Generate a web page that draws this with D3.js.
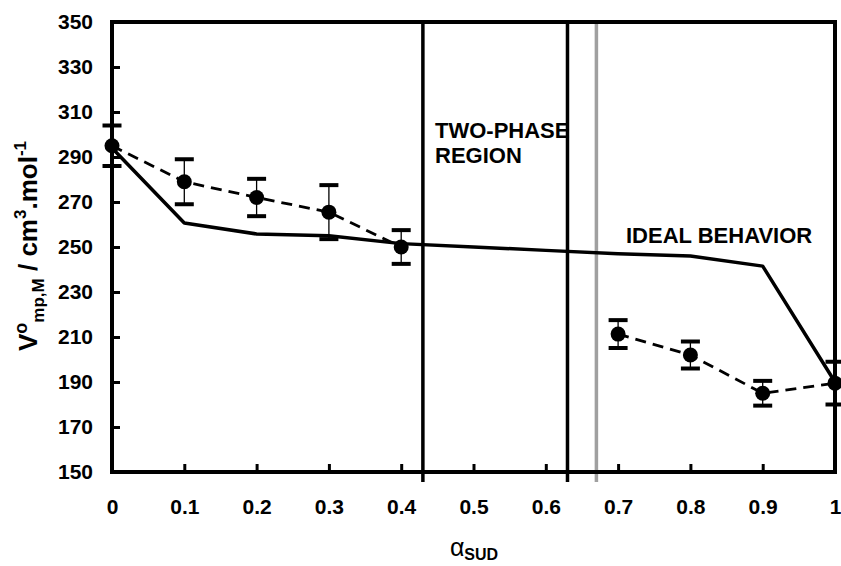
<!DOCTYPE html>
<html><head><meta charset="utf-8">
<script src="https://cdn.jsdelivr.net/npm/d3@7"></script>
<style>body{margin:0;background:#fff}svg{display:block}</style>
</head><body>
<svg id="c" width="841" height="566"></svg>
<script>
const xTicks = [0,0.1,0.2,0.3,0.4,0.5,0.6,0.7,0.8,0.9,1];
const yTicks = [150,170,190,210,230,250,270,290,310,330,350];
const idealX = [0,0.1,0.2,0.3,0.4,0.5,0.6,0.7,0.8,0.9,1];
const idealY = [294,260.7,255.8,255,251.5,250,248.5,247,246,241.5,190];
const expX = [0,0.1,0.2,0.3,0.4,0.7,0.8,0.9,1];
const expY = [295,279,272,265.5,250,211.3,202,185,189.5];
const expErr = [9,10,8.3,12,7.5,6.2,6,5.5,9.5];
const expSegment = [0,0,0,0,0,1,1,1,1];
const phaseLines = [0.43,0.63];
const greyLine = [0.67];

const svg = d3.select("#c");
const L=112,R=835,T=22,B=472;
const x = d3.scaleLinear().domain([0,1]).range([L,R]);
const y = d3.scaleLinear().domain([150,350]).range([B,T]);
const font = "'Liberation Sans', Arial, sans-serif";

const xa = svg.append("g").attr("transform",`translate(0,${B})`)
  .call(d3.axisBottom(x).tickValues(xTicks).tickSize(-8).tickPadding(27).tickFormat(d=>d3.format("")(d)));
xa.select(".domain").remove();
xa.selectAll("line").attr("stroke","#000").attr("stroke-width",3);
xa.selectAll("text").attr("font-family",font).attr("font-weight","bold").attr("font-size",21).attr("fill","#000");

const ya = svg.append("g").attr("transform",`translate(${L},0)`)
  .call(d3.axisLeft(y).tickValues(yTicks).tickSize(-8).tickPadding(19));
ya.select(".domain").remove();
ya.selectAll("line").attr("stroke","#000").attr("stroke-width",3);
ya.selectAll("text").attr("font-family",font).attr("font-weight","bold").attr("font-size",21).attr("fill","#000");

svg.selectAll(".pl").data(phaseLines).join("line")
  .attr("x1",d=>x(d)).attr("x2",d=>x(d)).attr("y1",T).attr("y2",B+10)
  .attr("stroke","#000").attr("stroke-width",3.5);
svg.selectAll(".gl").data(greyLine).join("line")
  .attr("x1",d=>x(d)).attr("x2",d=>x(d)).attr("y1",T).attr("y2",B+10)
  .attr("stroke","#a0a0a0").attr("stroke-width",3.5);

svg.append("rect").attr("x",L).attr("y",T).attr("width",R-L).attr("height",B-T)
  .attr("fill","none").attr("stroke","#000").attr("stroke-width",4);

const line = d3.line().x(d=>x(d[0])).y(d=>y(d[1]));
svg.append("path").datum(idealX.map((v,i)=>[v,idealY[i]]))
  .attr("d",line).attr("fill","none").attr("stroke","#000").attr("stroke-width",3.5).attr("stroke-linejoin","round");

const segs = d3.groups(expX.map((v,i)=>[v,expY[i],expSegment[i]]), d=>d[2]);
segs.forEach(([k,pts])=>{
  svg.append("path").datum(pts).attr("d",line).attr("fill","none").attr("stroke","#000")
    .attr("stroke-width",2.8).attr("stroke-dasharray","11,7");
});

const eb = svg.append("g");
expX.forEach((v,i)=>{
  const cx=x(v), yt=y(expY[i]+expErr[i]), yb=y(expY[i]-expErr[i]);
  eb.append("line").attr("x1",cx).attr("x2",cx).attr("y1",yt).attr("y2",yb).attr("stroke","#000").attr("stroke-width",1.3);
  [yt,yb].forEach(yy=>eb.append("line").attr("x1",cx-9.5).attr("x2",cx+9.5).attr("y1",yy).attr("y2",yy).attr("stroke","#000").attr("stroke-width",4));
});
svg.selectAll(".dot").data(expX.map((v,i)=>[v,expY[i]])).join("circle")
  .attr("cx",d=>x(d[0])).attr("cy",d=>y(d[1])).attr("r",7.5).attr("fill","#000");

const ann = svg.append("g").attr("font-family",font).attr("font-weight","bold").attr("font-size",22).attr("fill","#000");
ann.append("text").attr("x",435).attr("y",138).text("TWO-PHASE");
ann.append("text").attr("x",435).attr("y",163).text("REGION");
ann.append("text").attr("x",626).attr("y",243).text("IDEAL BEHAVIOR");

const yl = svg.append("text").attr("transform","translate(37,246) rotate(-90)")
  .attr("text-anchor","middle").attr("font-family",font).attr("font-weight","bold").attr("font-size",26).attr("fill","#000");
yl.append("tspan").text("V");
yl.append("tspan").attr("dy",-10).attr("font-size",18).text("o");
yl.append("tspan").attr("dy",17).attr("font-size",17).text("mp,M");
yl.append("tspan").attr("dy",-7).text(" / cm");
yl.append("tspan").attr("dy",-11).attr("font-size",17).text("3");
yl.append("tspan").attr("dy",11).text(".mol");
yl.append("tspan").attr("dy",-11).attr("font-size",17).text("-1");

const xl = svg.append("text").attr("x",474).attr("y",556).attr("text-anchor","middle")
  .attr("font-family",font).attr("font-size",25).attr("fill","#000");
xl.append("tspan").text("α");
xl.append("tspan").attr("dy",4).attr("font-size",16).attr("font-weight","bold").text("SUD");
</script>
</body></html>
